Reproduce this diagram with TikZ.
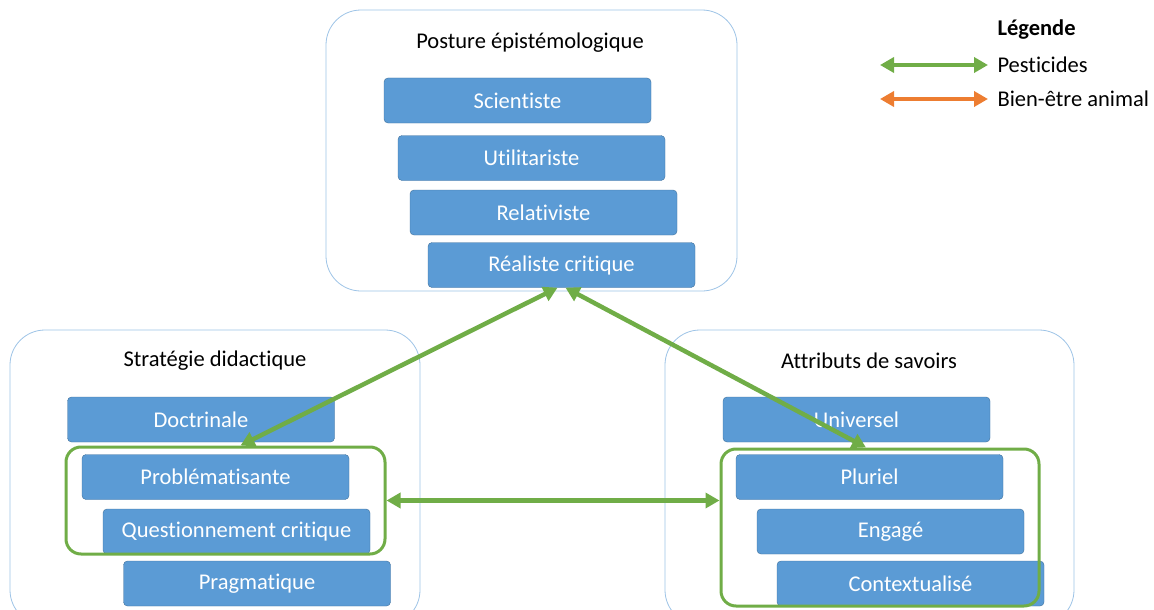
\documentclass[tikz,border=0pt]{standalone}
\usepackage{fontspec}
\setmainfont{Carlito}[Ligatures={NoCommon}]
\usetikzlibrary{arrows.meta}
\definecolor{boxblue}{HTML}{5B9BD5}
\definecolor{boxline}{HTML}{41719C}
\definecolor{grpline}{HTML}{9DC3E6}
\definecolor{pestgreen}{HTML}{70AD47}
\definecolor{animorange}{HTML}{ED7D31}
\tikzset{
  item/.style={rectangle, rounded corners=4pt, fill=boxblue, draw=boxline,
    minimum width=267pt, minimum height=45pt, text=white, font=\fontsize{22.5}{26}\selectfont},
  group/.style={rectangle, rounded corners=35pt, draw=grpline, line width=0.8pt},
  frame/.style={rectangle, rounded corners=15pt, draw=pestgreen, line width=3pt},
  pest/.style={draw=pestgreen, line width=4.5pt, {Triangle[length=14pt,width=15pt]}-{Triangle[length=14pt,width=15pt]}},
  anim/.style={draw=animorange, line width=4.5pt, {Triangle[length=14pt,width=15pt]}-{Triangle[length=14pt,width=15pt]}},
  title/.style={font=\fontsize{22.5}{26}\selectfont}
}
\begin{document}
\begin{tikzpicture}[x=1pt, y=-1pt]
  \clip (0,0) rectangle (1154,610);

  % les trois ensembles
  \node[group, minimum width=411pt, minimum height=281pt] (gP) at (531.5,150.5) {};
  \node[group, minimum width=410pt, minimum height=295pt] (gS) at (215,477.5) {};
  \node[group, minimum width=409pt, minimum height=295pt] (gA) at (869.5,477.5) {};

  \node[title] (tP) at (530,43) {Posture épistémologique};
  \node[title] (tS) at (215,361) {Stratégie didactique};
  \node[title] (tA) at (869,361) {Attributs de savoirs};

  % postures
  \foreach \n/\x/\y/\t in {scie/517.5/100.5/Scientiste, util/531.5/158/Utilitariste,
      rela/543.5/212.5/Relativiste, real/561.5/265/Réaliste critique}
  {
    \node[item] (\n) at (\x,\y) {\t};
  }

  % strategies
  \foreach \n/\x/\y/\t in {doct/201/419.5/Doctrinale, prob/215.5/477/Problématisante,
      ques/236.5/531.5/Questionnement critique, prag/257/583.5/Pragmatique}
  {
    \node[item] (\n) at (\x,\y) {\t};
  }

  % attributs
  \foreach \n/\x/\y/\t in {univ/856.5/419.5/Universel, plur/869.5/477/Pluriel,
      enga/890.5/531.5/Engagé, cont/910.5/583.5/Contextualisé}
  {
    \node[item] (\n) at (\x,\y) {\t};
  }

  % cadres verts
  \node[frame, minimum width=319pt, minimum height=107pt] (frS) at (225.5,500.5) {};
  \node[frame, minimum width=318pt, minimum height=157pt] (frA) at (880,527.5) {};

  \draw[pest] ([xshift=-4pt]real.south) -- ([xshift=15pt]frS.north);
  \draw[pest] ([xshift=4pt]real.south) -- ([xshift=-14pt]frA.north);
  \draw[pest] (frS.east) -- (frS.east -| frA.west);

  % legende
  \node[title, font=\fontsize{22.5}{26}\selectfont\bfseries, anchor=west] (leg) at (994,30) {Légende};
  \coordinate (l1a) at (880,65);
  \coordinate (l1b) at (988,65);
  \coordinate (l2a) at (880,99);
  \coordinate (l2b) at (988,99);
  \draw[pest] (l1a) -- (l1b);
  \draw[anim] (l2a) -- (l2b);
  \node[title, anchor=west] (lpest) at (994,65) {Pesticides};
  \node[title, anchor=west] (lanim) at (994,99) {Bien-être animal};
\end{tikzpicture}
\end{document}
